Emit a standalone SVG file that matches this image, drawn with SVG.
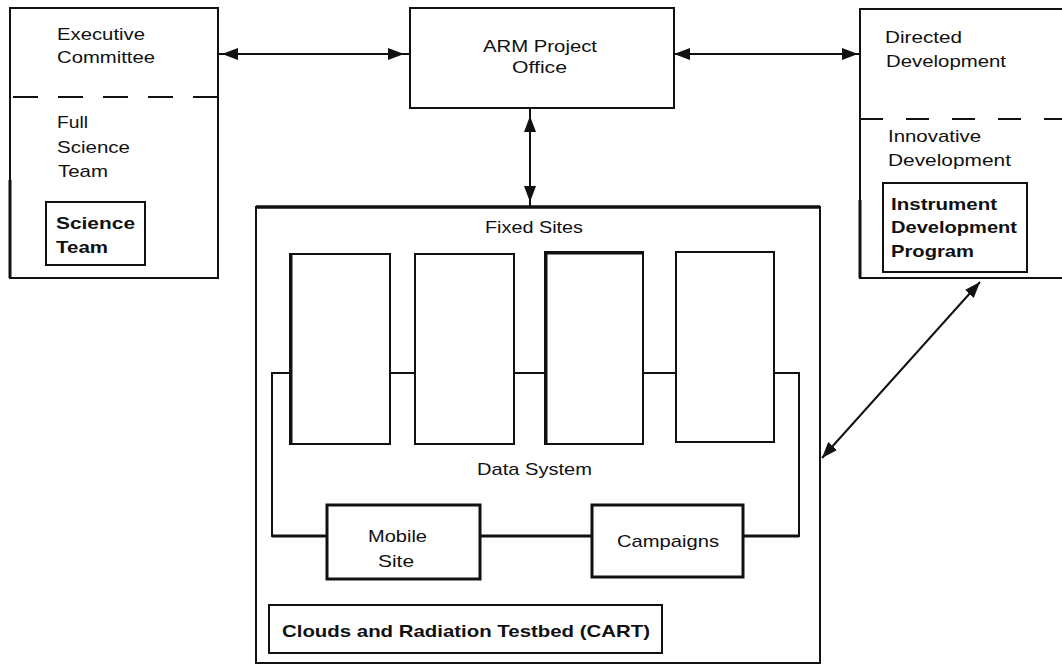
<svg xmlns="http://www.w3.org/2000/svg" width="1062" height="665" viewBox="0 0 1062 665">
  <style>
    .box { fill: none; stroke: #111; stroke-width: 2; }
    .thick { fill: none; stroke: #111; stroke-width: 3; }
    .dash { stroke: #111; stroke-width: 2; }
    .conn { fill: none; stroke: #111; stroke-width: 2; }
    .t { font-family: "Liberation Sans", Arial, sans-serif; font-size: 17px; fill: #111; }
    .b { font-weight: bold; }
  </style>
  <defs>
    <marker id="ah" markerUnits="userSpaceOnUse" markerWidth="18" markerHeight="14" refX="16" refY="7" orient="auto-start-reverse">
      <path d="M0,1 L16,7 L0,13 Z" fill="#111"/>
    </marker>
  </defs>
  <rect width="1062" height="665" fill="#fff"/>

  <g id="executive-committee">
    <rect class="box" x="10" y="8" width="208" height="270"/>
    <line x1="10" y1="180" x2="10" y2="278" stroke="#111" stroke-width="3"/>
    <line class="dash" x1="13" y1="97" x2="218" y2="97" stroke-dasharray="25 20"/>
    <text class="t" x="57" y="40" textLength="88" lengthAdjust="spacingAndGlyphs">Executive</text>
    <text class="t" x="57" y="63" textLength="98" lengthAdjust="spacingAndGlyphs">Committee</text>
    <text class="t" x="57" y="128" textLength="31" lengthAdjust="spacingAndGlyphs">Full</text>
    <text class="t" x="57" y="153" textLength="73" lengthAdjust="spacingAndGlyphs">Science</text>
    <text class="t" x="58" y="177" textLength="50" lengthAdjust="spacingAndGlyphs">Team</text>
  </g>
  <g id="science-team">
    <rect class="box" x="46" y="202" width="99" height="63"/>
    <text class="t b" x="56" y="229" textLength="79" lengthAdjust="spacingAndGlyphs">Science</text>
    <text class="t b" x="56" y="253" textLength="52" lengthAdjust="spacingAndGlyphs">Team</text>
  </g>

  <g id="arm-project-office">
    <rect class="box" x="410" y="8" width="264" height="100"/>
    <text class="t" x="483" y="52" textLength="114" lengthAdjust="spacingAndGlyphs">ARM Project</text>
    <text class="t" x="512" y="73" textLength="55" lengthAdjust="spacingAndGlyphs">Office</text>
  </g>

  <g id="development">
    <rect class="box" x="860" y="9" width="220" height="269"/>
    <line x1="860" y1="200" x2="860" y2="278" stroke="#111" stroke-width="3"/>
    <line class="dash" x1="860" y1="119" x2="1062" y2="119" stroke-dasharray="23 23"/>
    <text class="t" x="885" y="43" textLength="77" lengthAdjust="spacingAndGlyphs">Directed</text>
    <text class="t" x="886" y="67" textLength="120" lengthAdjust="spacingAndGlyphs">Development</text>
    <text class="t" x="888" y="142" textLength="93" lengthAdjust="spacingAndGlyphs">Innovative</text>
    <text class="t" x="888" y="166" textLength="123" lengthAdjust="spacingAndGlyphs">Development</text>
  </g>
  <g id="instrument-development-program">
    <rect class="box" x="883" y="183" width="144" height="89"/>
    <text class="t b" x="891" y="210" textLength="106" lengthAdjust="spacingAndGlyphs">Instrument</text>
    <text class="t b" x="891" y="233" textLength="126" lengthAdjust="spacingAndGlyphs">Development</text>
    <text class="t b" x="891" y="257" textLength="83" lengthAdjust="spacingAndGlyphs">Program</text>
  </g>

  <g id="fixed-sites">
    <rect class="box" x="256" y="207" width="564" height="456"/>
    <line x1="256" y1="207" x2="820" y2="207" stroke="#111" stroke-width="3.5"/>
    <text class="t" x="485" y="233" textLength="98" lengthAdjust="spacingAndGlyphs">Fixed Sites</text>
  </g>
  <g id="site-1">
    <rect class="box" x="290" y="254" width="100" height="190"/>
    <line x1="291" y1="254" x2="291" y2="444" stroke="#111" stroke-width="3"/>
  </g>
  <g id="site-2">
    <rect class="box" x="415" y="254" width="99" height="190"/>
  </g>
  <g id="site-3">
    <rect class="box" x="545" y="252" width="98" height="192"/>
    <line x1="546" y1="252" x2="546" y2="444" stroke="#111" stroke-width="3"/>
    <line x1="545" y1="253" x2="643" y2="253" stroke="#111" stroke-width="3"/>
  </g>
  <g id="site-4">
    <rect class="box" x="676" y="252" width="98" height="190"/>
  </g>
  <g id="data-system">
    <text class="t" x="477" y="475" textLength="115" lengthAdjust="spacingAndGlyphs">Data System</text>
  </g>
  <g id="mobile-site">
    <rect class="thick" x="327" y="505" width="153" height="74"/>
    <text class="t" x="368" y="542" textLength="59" lengthAdjust="spacingAndGlyphs">Mobile</text>
    <text class="t" x="378" y="567" textLength="36" lengthAdjust="spacingAndGlyphs">Site</text>
  </g>
  <g id="campaigns">
    <rect class="thick" x="592" y="505" width="151" height="72"/>
    <text class="t" x="617" y="547" textLength="102" lengthAdjust="spacingAndGlyphs">Campaigns</text>
  </g>
  <g id="cart">
    <rect class="box" x="269" y="605" width="393" height="48"/>
    <text class="t b" x="282" y="637" textLength="368" lengthAdjust="spacingAndGlyphs">Clouds and Radiation Testbed (CART)</text>
  </g>

  <g id="connectors">
    <!-- data system network -->
    <polyline class="conn" points="290,373 272,373 272,536 327,536"/>
    <line class="conn" x1="390" y1="373" x2="415" y2="373"/>
    <line class="conn" x1="514" y1="373" x2="545" y2="373"/>
    <line class="conn" x1="643" y1="373" x2="676" y2="373"/>
    <polyline class="conn" points="774,373 799,373 799,536 743,536"/>
    <line x1="480" y1="536" x2="592" y2="536" stroke="#111" stroke-width="3"/>
    <line x1="272" y1="536" x2="327" y2="536" stroke="#111" stroke-width="3"/>
    <line x1="743" y1="536" x2="799" y2="536" stroke="#111" stroke-width="3"/>
    <!-- arrows -->
    <line class="conn" x1="218" y1="54" x2="410" y2="54"/>
    <line class="conn" x1="222" y1="54" x2="404" y2="54" marker-start="url(#ah)" marker-end="url(#ah)"/>
    <line class="conn" x1="674" y1="54" x2="860" y2="54"/>
    <line class="conn" x1="674" y1="54" x2="858" y2="54" marker-start="url(#ah)" marker-end="url(#ah)"/>
    <line class="conn" x1="530" y1="108" x2="530" y2="207"/>
    <line class="conn" x1="530" y1="116" x2="530" y2="202" marker-start="url(#ah)" marker-end="url(#ah)"/>
    <line class="conn" x1="980" y1="282" x2="822" y2="458" marker-start="url(#ah)" marker-end="url(#ah)" stroke-width="2.5"/>
  </g>
</svg>
